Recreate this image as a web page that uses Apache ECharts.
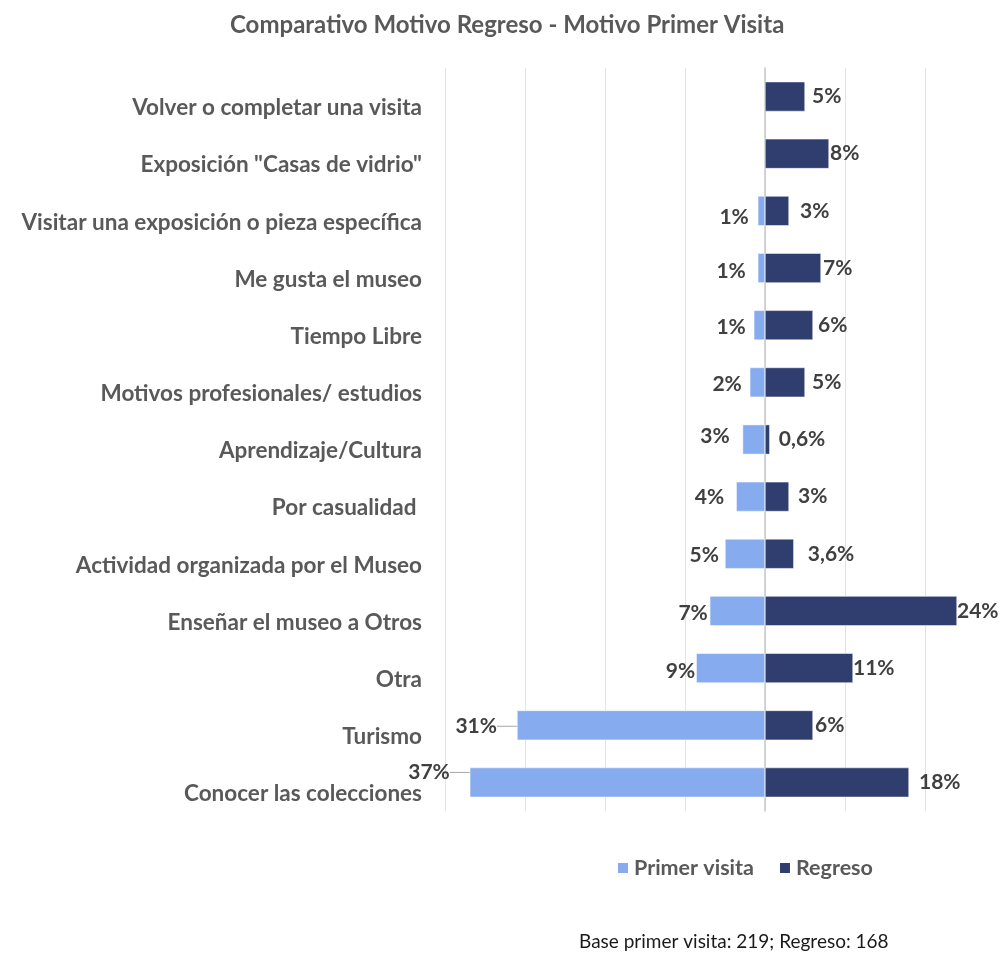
<!DOCTYPE html>
<html>
<head>
<meta charset="utf-8">
<title>Comparativo Motivo Regreso - Motivo Primer Visita</title>
<script src="https://cdn.jsdelivr.net/npm/echarts@6/dist/echarts.min.js"></script>
<style>
  html, body { margin: 0; padding: 0; background: #ffffff; }
  #chart { width: 1001px; height: 961px; }
</style>
</head>
<body>
<div id="chart"></div>
<script>
const categories = [
  'Volver o completar una visita',
  'Exposición "Casas de vidrio"',
  'Visitar una exposición o pieza específica',
  'Me gusta el museo',
  'Tiempo Libre',
  'Motivos profesionales/ estudios',
  'Aprendizaje/Cultura',
  'Por casualidad ',
  'Actividad organizada por el Museo',
  'Enseñar el museo a Otros',
  'Otra',
  'Turismo',
  'Conocer las colecciones'
]

// % primera visita (drawn to the left of zero)
const primerVisita = [null, null, 0.9, 0.9, 1.4, 1.9, 2.8, 3.6, 5, 6.9, 8.6, 31, 36.9]
// % regreso
const regreso = [5, 8, 3, 7, 6, 5, 0.6, 3, 3.6, 24, 11, 6, 18]

const axisTicks = [-40, -30, -20, -10, 0, 10, 20]

// hand placed label nudges, as in the original chart (px)
const primerNudgeX = [0, 0, -9, -12, -8, -8, -13, -12, -6, -2, -1, -20, -20]
const primerNudgeY = [0, 0, 6, 3, 2, 2, -3, 1, 1, 2, 3, 1, -10]
const regresoNudgeX = [7, 1, 11, 2, 5, 7, 9, 9, 14, 0, 0, 2, 10]
const leaderLines = [11, 12]

const FONT = 'Lato, "Open Sans", sans-serif'
const GRAY = '#595959'
const VALUE = '#404040'

function pct(v) {
  const a = Math.abs(v)
  return (Number.isInteger(a) ? String(a) : a.toFixed(1).replace('.', ',')) + '%'
}

const chart = echarts.init(document.getElementById('chart'))

chart.setOption({
  backgroundColor: '#ffffff',
  animation: false,
  textStyle: { fontFamily: FONT },
  title: {
    text: 'Comparativo Motivo Regreso - Motivo Primer Visita',
    left: 225,
    top: 8,
    textStyle: { fontFamily: FONT, fontSize: 24, fontWeight: 'bold', color: GRAY }
  },
  graphic: [
    {
      type: 'text',
      left: 579,
      top: 932,
      style: { text: 'Base primer visita: 219; Regreso: 168', font: '19px ' + FONT, fill: '#1a1a1a' }
    }
  ],
  legend: {
    left: 611,
    top: 852,
    itemWidth: 12,
    itemHeight: 12,
    itemGap: 24,
    icon: 'rect',
    textStyle: { fontFamily: FONT, fontSize: 21.5, fontWeight: 'bold', color: GRAY },
    data: ['Primer visita', 'Regreso']
  },
  grid: { left: 445, right: 76, top: 68, bottom: 150, containLabel: false },
  xAxis: {
    type: 'value',
    min: axisTicks[0],
    max: axisTicks[axisTicks.length - 1],
    interval: 10,
    axisLabel: { show: false },
    axisLine: { show: false },
    axisTick: { show: false },
    splitLine: { lineStyle: { color: '#e3e3e3', width: 1 } }
  },
  yAxis: {
    type: 'category',
    inverse: true,
    data: categories,
    axisTick: { show: false },
    axisLine: { show: true, onZero: true, lineStyle: { color: '#c9c9c9', width: 1.5 } },
    axisLabel: {
      margin: 23,
      verticalAlign: 'top',
      fontFamily: FONT,
      fontSize: 22.5,
      fontWeight: 'bold',
      color: GRAY
    }
  },
  series: [
    {
      name: 'Primer visita',
      type: 'bar',
      stack: 'total',
      barWidth: '52%',
      clip: false,
      itemStyle: { color: '#86abee', borderColor: '#ffffff', borderWidth: 0.5 },
      label: {
        show: true,
        position: 'left',
        distance: 0,
        fontFamily: FONT,
        fontSize: 21,
        fontWeight: 'bold',
        color: VALUE,
        formatter: p => Math.round(Math.abs(p.value)) + '%'
      },
      labelLine: { show: false, lineStyle: { color: '#a6a6a6', width: 1 } },
      labelLayout: p => ({ dx: primerNudgeX[p.dataIndex], dy: primerNudgeY[p.dataIndex] }),
      data: primerVisita.map((v, i) => ({
        value: v == null ? null : -v,
        labelLine: { show: leaderLines.includes(i) }
      }))
    },
    {
      name: 'Regreso',
      type: 'bar',
      stack: 'total',
      barWidth: '52%',
      clip: false,
      itemStyle: { color: '#2f3e6f', borderColor: '#ffffff', borderWidth: 0.5 },
      label: {
        show: true,
        position: 'right',
        distance: 0,
        fontFamily: FONT,
        fontSize: 21,
        fontWeight: 'bold',
        color: VALUE,
        formatter: p => pct(p.value)
      },
      labelLayout: p => ({ dx: regresoNudgeX[p.dataIndex] }),
      data: regreso
    }
  ]
})
</script>
</body>
</html>
